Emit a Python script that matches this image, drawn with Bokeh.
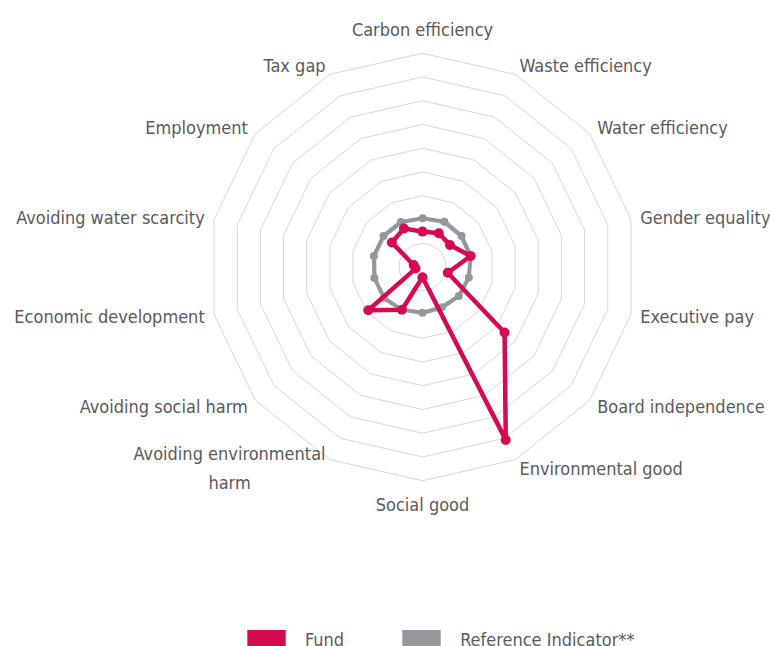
import numpy as np
from bokeh.plotting import figure
from bokeh.models import Range1d, Legend, LegendItem
from bokeh.embed import file_html
from bokeh.resources import INLINE
from bokeh.core.properties import value

# ---- data ----
categories = ["Carbon efficiency", "Waste efficiency", "Water efficiency", "Gender equality",
              "Executive pay", "Board independence", "Environmental good", "Social good",
              "Avoiding environmental harm", "Avoiding social harm", "Economic development",
              "Avoiding water scarcity", "Employment", "Tax gap"]
display_labels = ["Carbon efficiency", "Waste efficiency", "Water efficiency", "Gender equality",
                  "Executive pay", "Board independence", "Environmental good", "Social good",
                  "Avoiding environmental\nharm", "Avoiding social harm", "Economic development",
                  "Avoiding water scarcity", "Employment", "Tax gap"]
fund = [1.49, 1.58, 1.48, 2.08, 1.09, 4.42, 8.08, 0.43, 2.00, 2.92, 0.30, 0.38, 1.65, 1.80]
reference = [2.05, 2.12, 2.10, 2.08, 2.00, 1.96, 1.88, 1.93, 2.00, 2.08, 2.08, 2.10, 2.10, 2.10]
ring_levels = [1, 2, 3, 4, 5, 6, 7, 8, 9]
series_names = ["Fund", "Reference Indicator**"]

FUND_COLOR = "#D50A51"
REF_COLOR = "#95969A"
GRID_COLOR = "#D6D6D6"
TEXT_COLOR = "#5A5A5A"
FONT = "DejaVu Sans Condensed, Roboto"

W, H = 770, 646
U = 23.75            # pixels per unit
CX, CY = 422, 266.5  # centre in figure pixels

p = figure(width=W, height=H, output_backend="svg", toolbar_location=None,
           x_range=Range1d(-CX / U, (W - CX) / U), y_range=Range1d(-(H - CY) / U, CY / U),
           x_axis_location=None, y_axis_location=None, min_border=0)
p.outline_line_color = None
p.xgrid.visible = False
p.ygrid.visible = False
p.background_fill_color = "white"

n = len(categories)
theta = np.arange(n) * 2 * np.pi / n
sx, cy = np.sin(theta), np.cos(theta)

# grid polygons
gxs = [list(np.append(r * sx, r * sx[0])) for r in ring_levels]
gys = [list(np.append(r * cy, r * cy[0])) for r in ring_levels]
p.multi_line(gxs, gys, line_color=GRID_COLOR, line_width=1)

def closed(vals):
    v = np.array(vals)
    x = v * sx
    y = v * cy
    return np.append(x, x[0]), np.append(y, y[0]), x, y

rx, ry, rpx, rpy = closed(reference)
p.line(rx, ry, line_color=REF_COLOR, line_width=4, line_join="round")
p.scatter(rpx, rpy, size=8, fill_color=REF_COLOR, line_color=None)

fx, fy, fpx, fpy = closed(fund)
p.line(fx, fy, line_color=FUND_COLOR, line_width=4.5, line_join="round")
p.scatter(fpx, fpy, size=10, fill_color=FUND_COLOR, line_color=None)

# category labels
outer = max(ring_levels)
side_r = outer * 1.045
top_r = outer * 1.11
groups = {"left": ([], [], []), "right": ([], [], []), "center": ([], [], [])}
special = None
for i, lab in enumerate(display_labels):
    s = sx[i]
    if abs(s) < 1e-6:
        g = groups["center"]; r = top_r
    elif "\n" in lab:
        special = (side_r * s, side_r * cy[i], lab); continue
    elif s > 0:
        g = groups["left"]; r = side_r
    else:
        g = groups["right"]; r = side_r
    g[0].append(r * s); g[1].append(r * cy[i]); g[2].append(lab)

for align, (xs, ys, ts) in groups.items():
    p.text(xs, ys, text=ts, text_align=align, text_baseline="middle",
           text_font=value(FONT), text_font_size="18px", text_color=TEXT_COLOR)
if special is not None:
    p.text([special[0]], [special[1]], text=[special[2]], text_align="center",
           anchor="center_right", text_baseline="middle", text_line_height=1.4,
           text_font=value(FONT), text_font_size="18px", text_color=TEXT_COLOR)

# legend (swatch renderers hold a single non-drawable row so the legend shows a box)
nan = np.array([np.nan])
r1 = p.quad(left=nan, right=nan, top=nan, bottom=nan, fill_color=FUND_COLOR, line_color=None)
r2 = p.quad(left=nan, right=nan, top=nan, bottom=nan, fill_color=REF_COLOR, line_color=None)
legend = Legend(items=[LegendItem(label=series_names[0], renderers=[r1]),
                       LegendItem(label=series_names[1], renderers=[r2])],
                orientation="horizontal", location=(242, -6), glyph_width=48, glyph_height=25,
                label_standoff=15, spacing=53, padding=0, margin=0,
                border_line_color=None, background_fill_alpha=0,
                label_text_font=FONT, label_text_font_size="18px", label_text_color=TEXT_COLOR)
p.add_layout(legend)

open("out.html", "w").write(file_html(p, INLINE))
